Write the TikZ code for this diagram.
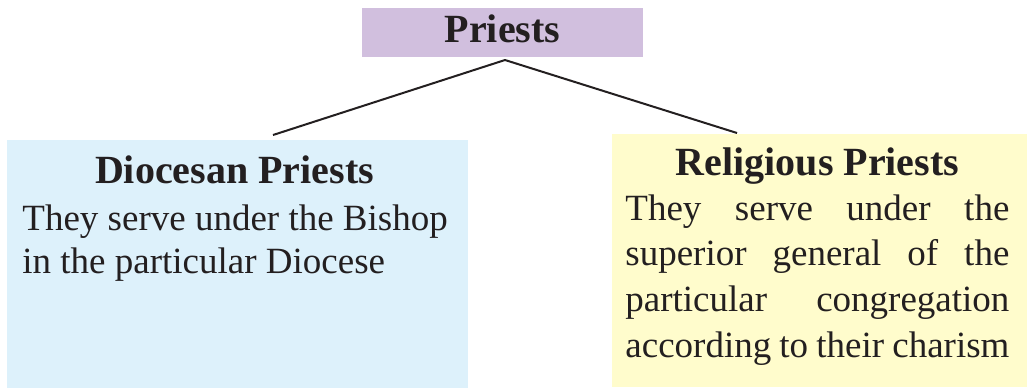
\documentclass[tikz,border=0pt]{standalone}
\usepackage{fontspec}
\setmainfont{Liberation Serif}
\usetikzlibrary{positioning}
\definecolor{boxpurple}{HTML}{D1BFDE}
\definecolor{boxblue}{HTML}{DDF1FB}
\definecolor{boxyellow}{HTML}{FFFCCC}
\definecolor{inkdark}{HTML}{231F20}
\tikzset{
    headnode/.style = {rectangle, inner sep=0pt, fill=boxpurple},
    diocnode/.style = {rectangle, inner sep=0pt, fill=boxblue},
    relinode/.style = {rectangle, inner sep=0pt, fill=boxyellow},
    titletext/.style = {inner sep=0pt, text=inkdark, font=\fontsize{20}{24}\selectfont\bfseries},
    bodytext/.style = {inner sep=0pt, text=inkdark, align=left},
    edgen/.style = {-, line width=1pt, inkdark}
}

\begin{document}
\begin{tikzpicture}[x=0.5pt,y=-0.5pt]
\path[use as bounding box] (0,0) rectangle (1027,388);
\node[headnode, minimum width=140.5pt, minimum height=24.5pt] at (502.5, 32.5) (priests) {};
\node[diocnode, minimum width=230.5pt, minimum height=124pt] at (237.5, 264.0) (diocesan) {};
\node[relinode, minimum width=207.5pt, minimum height=126.5pt] at (819.5, 260.5) (religious) {};
%
\node[titletext, anchor=base] at (502.5, 42) (priestsT) {Priests};
\node[titletext, anchor=base] at (234.5, 183) (diocesanT) {Diocesan Priests};
\node[titletext, anchor=base] at (817.5, 175) (religiousT) {Religious Priests};
%
% base anchor sits on the last line
\node[bodytext, anchor=base west, font=\fontsize{18.5}{21.5}\selectfont] at (22, 273) (diocesanB)
    {They serve under the Bishop\\in the particular Diocese};
\node[bodytext, anchor=base west, font=\fontsize{18.5}{22.8}\selectfont] at (625, 357) (religiousB)
    {\makebox[192pt][s]{They serve under the}\\
     \makebox[192pt][s]{superior general of the}\\
     \makebox[192pt][s]{particular congregation}\\
     \makebox[192pt][s]{according to their charism}};
%
\coordinate (apex) at (505, 60);
\coordinate (lend) at (273, 135);
\coordinate (rend) at (737, 133);
\draw[edgen] (apex) -- (lend);
\draw[edgen] (apex) -- (rend);
\end{tikzpicture}
\end{document}
